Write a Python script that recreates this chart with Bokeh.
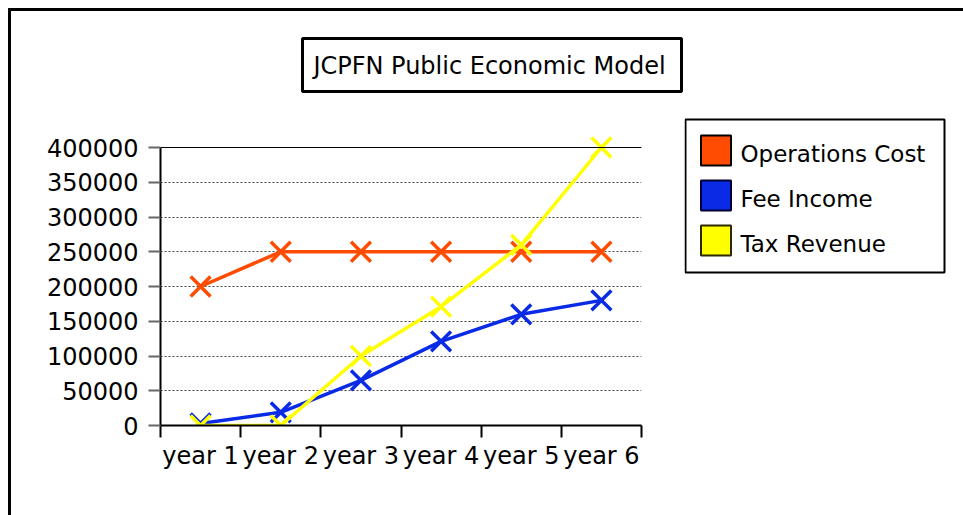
from bokeh.plotting import figure
from bokeh.layouts import column, row
from bokeh.models import (ColumnDataSource, FixedTicker, Range1d, Label, BoxAnnotation,
                          Span, BasicTickFormatter)
from bokeh.core.properties import value
from bokeh.embed import file_html
from bokeh.resources import INLINE

# ---- data ----
categories = ["year 1", "year 2", "year 3", "year 4", "year 5", "year 6"]
operations_cost = [200000, 250000, 250000, 250000, 250000, 250000]
fee_income = [3000, 19000, 65000, 121000, 160000, 180000]
tax_revenue = [0, 0, 100000, 171000, 260000, 400000]
y_ticks = [0, 50000, 100000, 150000, 200000, 250000, 300000, 350000, 400000]
series_names = ["Operations Cost", "Fee Income", "Tax Revenue"]
series_colors = ["#FF4C00", "#0A2BE6", "#FFFF00"]
swatch_borders = ["#000000", "#000033", "#2A2A00"]
title_text = "JCPFN Public Economic Model"

FONT = "DejaVu Sans"

x_centers = [i + 0.5 for i in range(len(categories))]
boundaries = list(range(len(categories) + 1))

TOTAL_W, TOTAL_H = 952, 504
TITLE_H = 100

# ---------- title box figure ----------
tf = figure(width=TOTAL_W, height=TITLE_H, output_backend="svg", toolbar_location=None,
            x_axis_location=None, y_axis_location=None,
            min_border_left=291, min_border_right=282, min_border_top=27, min_border_bottom=20)
tf.background_fill_color = "white"
tf.border_fill_color = "white"
tf.outline_line_color = "black"
tf.outline_line_width = 3
tf.grid.visible = False
tf.add_layout(Label(x=187, y=26, x_units="screen", y_units="screen", text=title_text,
                    text_align="center", text_baseline="middle", text_font=FONT,
                    text_font_size="24px", text_color="black"))

# ---------- layout constants (pixels) ----------
MAIN_W = 673
ROW_H = TOTAL_H - TITLE_H          # 404
TOP_B, BOT_B = 6, 90                # shared by chart and legend (frames align in a row)
FRAME_H = ROW_H - TOP_B - BOT_B     # 308
DATA_PX = 278                       # pixel height of 0..max tick
y_top = y_ticks[-1] * FRAME_H / DATA_PX

# ---------- main chart ----------
p = figure(width=MAIN_W, height=ROW_H, output_backend="svg", toolbar_location=None,
           x_range=Range1d(0, len(categories)), y_range=Range1d(y_ticks[0], y_top),
           min_border_left=149, min_border_right=43, min_border_top=TOP_B, min_border_bottom=BOT_B)
p.background_fill_color = "white"
p.border_fill_color = "white"
p.outline_line_color = None

xa = p.xaxis[0]
xa.ticker = FixedTicker(ticks=x_centers, minor_ticks=boundaries)
xa.major_label_overrides = {x: c for x, c in zip(x_centers, categories)}
xa.major_tick_line_color = None
xa.major_tick_out = 12
xa.major_tick_in = 0
xa.minor_tick_line_color = "black"
xa.minor_tick_line_width = 2
xa.minor_tick_out = 12
xa.minor_tick_in = 0
xa.axis_line_color = "black"
xa.axis_line_width = 2
xa.major_label_standoff = 4
xa.major_label_text_font = FONT
xa.major_label_text_font_size = "24px"
xa.major_label_text_color = "black"

ya = p.yaxis[0]
ya.ticker = FixedTicker(ticks=y_ticks, minor_ticks=[])
ya.bounds = (y_ticks[0], y_ticks[-1])
ya.formatter = BasicTickFormatter(use_scientific=False)
ya.major_tick_line_color = "#666666"
ya.major_tick_line_width = 2
ya.major_tick_out = 12
ya.major_tick_in = 0
ya.minor_tick_line_color = None
ya.axis_line_color = "black"
ya.axis_line_width = 2
ya.major_label_standoff = 10
ya.major_label_text_font = FONT
ya.major_label_text_font_size = "24px"
ya.major_label_text_color = "black"

p.xgrid.visible = False
p.ygrid.grid_line_color = "#444444"
p.ygrid.grid_line_dash = "2 2"
p.ygrid.grid_line_width = 1

p.add_layout(Span(location=y_ticks[-1], dimension="width", line_color="black", line_width=1))

for vals, col in zip([operations_cost, fee_income, tax_revenue], series_colors):
    src = ColumnDataSource(dict(x=x_centers, y=vals))
    p.line("x", "y", source=src, line_color=col, line_width=3.5)
    p.scatter("x", "y", source=src, marker="x", size=28, line_color=col, line_width=3.5)

# ---------- legend figure ----------
LEG_W = TOTAL_W - MAIN_W            # 279
LEG_FRAME_W = LEG_W - 15
ROW_PX = 45                          # pixel distance between legend rows
FIRST_ROW_PX = 33                    # first row centre below frame top
row_idx = list(range(len(series_names)))
q = figure(width=LEG_W, height=ROW_H, output_backend="svg", toolbar_location=None,
           x_axis_location=None, y_axis_location=None,
           x_range=Range1d(0, LEG_FRAME_W),
           y_range=Range1d(-FIRST_ROW_PX / ROW_PX + FRAME_H / ROW_PX, -FIRST_ROW_PX / ROW_PX),
           min_border_left=0, min_border_right=15, min_border_top=TOP_B, min_border_bottom=BOT_B)
q.background_fill_color = "white"
q.border_fill_color = "white"
q.outline_line_color = None
q.grid.visible = False
q.add_layout(BoxAnnotation(left=1, right=260, top=FRAME_H - 2, bottom=FRAME_H - 155,
                           left_units="screen", right_units="screen",
                           top_units="screen", bottom_units="screen",
                           fill_color="white", fill_alpha=0, line_color="black", line_width=2,
                           line_alpha=1.0, level="underlay"))
lsrc = ColumnDataSource(dict(idx=row_idx, name=series_names, color=series_colors,
                             border=swatch_borders))
q.rect(x=31.5, y="idx", width=30, height=30, width_units="screen", height_units="screen",
       fill_color="color", line_color="border", line_width=2, source=lsrc)
q.text(x=56, y="idx", text="name", text_align="left", text_baseline="middle", y_offset=3,
       text_font=value(FONT), text_font_size="23px", text_color="black", source=lsrc)

layout = column(tf, row(p, q, spacing=0), spacing=0,
                styles={"margin-left": "8px", "margin-top": "8px",
                        "border-left": "3px solid black", "border-top": "3px solid black"})

open("out.html", "w").write(file_html(layout, INLINE))
